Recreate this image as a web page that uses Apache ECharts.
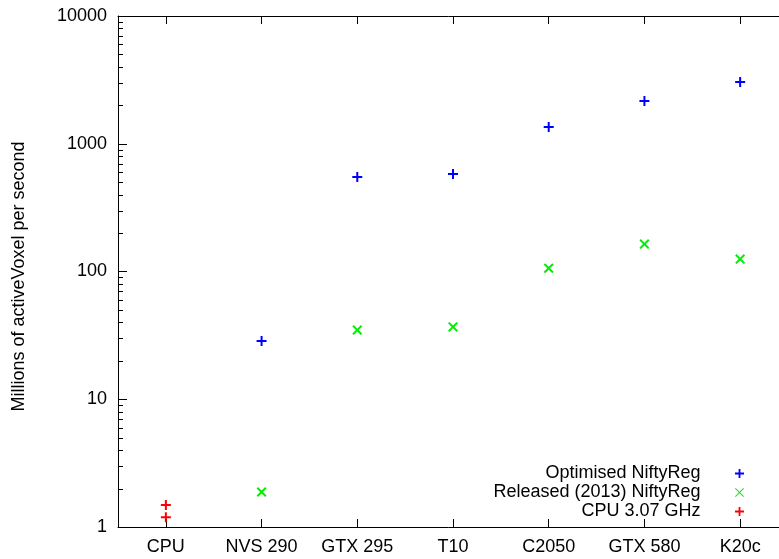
<!DOCTYPE html>
<html>
<head>
<meta charset="utf-8">
<script src="https://cdn.jsdelivr.net/npm/echarts@6/dist/echarts.min.js"></script>
<style>
html, body { margin: 0; padding: 0; background: #fff; }
#main { width: 779px; height: 559px; }
</style>
</head>
<body>
<div id="main"></div>
<script>
var categories = ['CPU', 'NVS 290', 'GTX 295', 'T10', 'C2050', 'GTX 580', 'K20c'];
var optimisedNames = ['NVS 290', 'GTX 295', 'T10', 'C2050', 'GTX 580', 'K20c'];
var optimisedValues = [28.6, 549, 580, 1352, 2160, 3040];
var releasedNames = ['NVS 290', 'GTX 295', 'T10', 'C2050', 'GTX 580', 'K20c'];
var releasedValues = [1.88, 34.8, 36.8, 106, 164, 125];
var cpuNames = ['CPU', 'CPU'];
var cpuValues = [1.49, 1.19];
var decades = [1, 10, 100, 1000];
var minorSteps = [2, 3, 4, 5, 6, 7, 8, 9];

var font = 'Liberation Sans';
var blue = '#0000ff', green = '#00ee00', red = '#ff0000';
var plusPath = 'path://M4,0L6,0L6,4L10,4L10,6L6,6L6,10L4,10L4,6L0,6L0,4L4,4Z';
var crossPath = 'path://M0,1.4L1.4,0L5,3.6L8.6,0L10,1.4L6.4,5L10,8.6L8.6,10L5,6.4L1.4,10L0,8.6L3.6,5Z';
// thin cross for the key; the thin plus came out dark, so the key reuses the bold plus
var crossThin = 'path://M0,0.7L0.7,0L5,4.3L9.3,0L10,0.7L5.7,5L10,9.3L9.3,10L5,5.7L0.7,10L0,9.3L4.3,5Z';

function pairs(names, values) {
    return names.map(function (n, i) { return [n, values[i]]; });
}

var minorTicks = [];
decades.forEach(function (d) {
    minorSteps.forEach(function (s) { minorTicks.push([0, d * s]); });
});

var myChart = echarts.init(document.getElementById('main'));
var option = {
    backgroundColor: '#fff',
    animation: false,
    textStyle: { fontFamily: font },
    grid: { left: 118, top: 16, width: 670, bottom: 32, outerBoundsMode: 'none', containLabel: false },
    legend: {
        orient: 'vertical',
        align: 'right',
        right: 35,
        top: 464,
        padding: 0,
        itemGap: 0,
        itemWidth: 68,
        itemHeight: 9,
        textStyle: { fontFamily: font, fontSize: 18, color: '#000', lineHeight: 19 },
        data: [
            { name: 'Optimised NiftyReg', icon: plusPath },
            { name: 'Released (2013) NiftyReg', icon: crossThin },
            { name: 'CPU 3.07 GHz', icon: plusPath }
        ]
    },
    xAxis: [{
        type: 'category',
        data: categories,
        position: 'bottom',
        axisLine: { show: true, lineStyle: { color: '#000', width: 1 } },
        axisTick: { show: true, inside: true, length: 8, alignWithLabel: true, lineStyle: { color: '#000' } },
        axisLabel: { color: '#000', fontSize: 18, fontFamily: font, margin: 11 },
        splitLine: { show: false }
    }, {
        type: 'category',
        data: categories,
        position: 'top',
        axisLine: { show: true, lineStyle: { color: '#000', width: 1 } },
        axisTick: { show: true, inside: true, length: 8, alignWithLabel: true, lineStyle: { color: '#000' } },
        axisLabel: { show: false },
        splitLine: { show: false }
    }],
    yAxis: [{
        type: 'log',
        logBase: 10,
        min: 1,
        max: 10000,
        position: 'left',
        name: 'Millions of activeVoxel per second',
        nameLocation: 'middle',
        nameGap: 90,
        nameTextStyle: { color: '#000', fontSize: 18, fontFamily: font, padding: [0, 10, 0, 0] },
        axisLine: { show: true, lineStyle: { color: '#000', width: 1 } },
        axisTick: { show: true, inside: true, length: 9, lineStyle: { color: '#000' } },
        axisLabel: {
            color: '#000', fontSize: 18, fontFamily: font, margin: 11,
            formatter: function (v) { return String(Math.round(v)); }
        },
        splitLine: { show: false }
    }, {
        type: 'log',
        logBase: 10,
        min: 1,
        max: 10000,
        position: 'right',
        axisLine: { show: true, lineStyle: { color: '#000', width: 1 } },
        axisTick: { show: true, inside: true, length: 9, lineStyle: { color: '#000' } },
        axisLabel: { show: false },
        splitLine: { show: false }
    }],
    series: [{
        name: 'Optimised NiftyReg',
        type: 'scatter',
        symbol: plusPath,
        symbolSize: 10,
        itemStyle: { color: blue, opacity: 1 },
        data: pairs(optimisedNames, optimisedValues)
    }, {
        name: 'Released (2013) NiftyReg',
        type: 'scatter',
        symbol: crossPath,
        symbolSize: 10,
        itemStyle: { color: green, opacity: 1 },
        data: pairs(releasedNames, releasedValues)
    }, {
        name: 'CPU 3.07 GHz',
        type: 'scatter',
        symbol: plusPath,
        symbolSize: 10,
        itemStyle: { color: red, opacity: 1 },
        data: pairs(cpuNames, cpuValues)
    }, {
        type: 'custom',
        silent: true,
        clip: false,
        renderItem: function (params, api) {
            var cs = params.coordSys;
            var y = Math.round(api.coord([0, api.value(1)])[1]) + 0.5;
            var st = { stroke: '#000', lineWidth: 1 };
            return {
                type: 'group',
                children: [
                    { type: 'line', shape: { x1: cs.x, y1: y, x2: cs.x + 5, y2: y }, style: st },
                    { type: 'line', shape: { x1: cs.x + cs.width - 5, y1: y, x2: cs.x + cs.width, y2: y }, style: st }
                ]
            };
        },
        data: minorTicks
    }]
};
myChart.setOption(option);
</script>
</body>
</html>
